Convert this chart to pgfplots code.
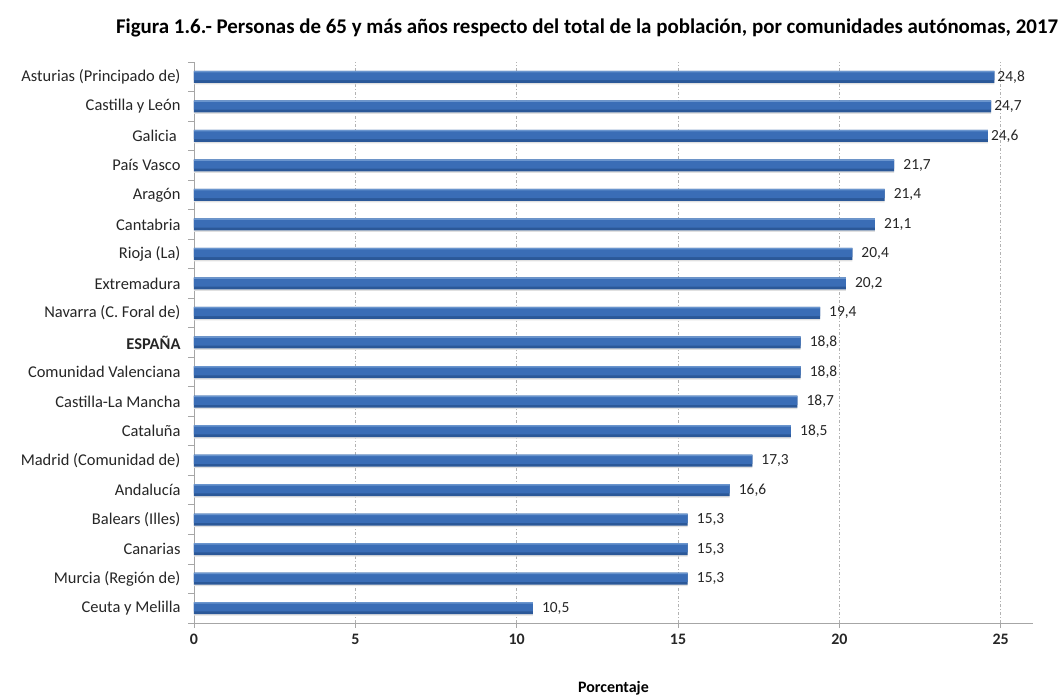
\documentclass[border=0pt]{standalone}
\usepackage{fontspec}
\setmainfont{Carlito}
\usepackage{pgfplots}
\pgfplotsset{compat=1.18}
\usepackage{pgfplotstable}
\definecolor{barmid}{HTML}{3A6DB6}
\definecolor{bartop}{HTML}{6A95CE}
\definecolor{barbot}{HTML}{2B5898}
\definecolor{txt}{HTML}{262626}
\pgfplotstableread{
y val dx
18 24.8 3
17 24.7 3
16 24.6 3
15 21.7 9
14 21.4 9
13 21.1 9
12 20.4 9
11 20.2 9
10 19.4 9
9 18.8 9
8 18.8 9
7 18.7 9
6 18.5 9
5 17.3 9
4 16.6 9
3 15.3 9
2 15.3 9
1 15.3 9
0 10.5 9
}\datatable
\begin{document}
\begin{tikzpicture}
\path[use as bounding box] (-194bp,-73bp) rectangle (865bp,623bp);
\node[font=\fontsize{21}{24}\selectfont\bfseries, text=black] at (393bp,595bp) {Figura 1.6.- Personas de 65 y más años respecto del total de la población, por comunidades autónomas, 2017};
\begin{axis}[
  anchor=south west, at={(0,0)},
  scale only axis, width=839bp, height=561bp,
  xbar,
  xmin=0, xmax=26, ymin=-0.5, ymax=18.5,
  axis x line*=bottom, axis y line*=left,
  axis line style={draw=gray!70, line width=0.8pt},
  xtick={0,5,...,25},
  ytick={0,...,18},
  yticklabels={Ceuta y Melilla, Murcia (Región de), Canarias, Balears (Illes), Andalucía, Madrid (Comunidad de), Cataluña, Castilla-La Mancha, Comunidad Valenciana, \textbf{ESPAÑA}, Navarra (C. Foral de), Extremadura, Rioja (La), Cantabria, Aragón, País Vasco\ , Galicia\ \ , Castilla y León, Asturias (Principado de)},
  minor ytick={-0.5,0.5,...,18.5},
  tick align=outside,
  major y tick style={draw=none},
  minor y tick style={draw=gray!70, line width=0.8pt},
  major x tick style={draw=gray!70, line width=0.8pt},
  major tick length=5bp, minor tick length=6bp,
  xmajorgrids,
  major x grid style={draw=gray!60, line width=0.6pt, dash pattern=on 3bp off 2bp on 1bp off 2bp},
  /pgf/number format/assume math mode=true,
  yticklabel style={font=\fontsize{16.5}{18}\selectfont, text=txt, xshift=-5bp},
  xticklabel style={font=\fontsize{16}{18}\selectfont\bfseries, text=txt, yshift=-3bp},
  xlabel={\textbf{Porcentaje}},
  xlabel style={at={(axis description cs:0.5,0)}, anchor=center, yshift=-65bp, font=\fontsize{16}{18}\selectfont, text=black},
  point meta=x,
  clip=false,
]
\addplot[draw=none, fill=black!12, bar width=12bp, bar shift=-1.5bp] table[x=val, y=y] {\datatable};
\addplot[draw=none, fill=barbot, bar width=12bp, bar shift=0bp,
  visualization depends on={\thisrow{dx}\as\dx},
  nodes near coords={\pgfmathprintnumber[use comma,fixed,fixed zerofill,precision=1]{\pgfplotspointmeta}},
  every node near coord/.append style={font=\fontsize{15.5}{18}\selectfont, text=txt, anchor=west, inner sep=0pt, xshift={\dx*1bp}}] table[x=val, y=y] {\datatable};
\addplot[draw=none, fill=barmid, bar width=8.5bp, bar shift=1bp] table[x=val, y=y] {\datatable};
\addplot[draw=none, fill=bartop, bar width=1.5bp, bar shift=5.25bp] table[x=val, y=y] {\datatable};
\end{axis}
\end{tikzpicture}
\end{document}
